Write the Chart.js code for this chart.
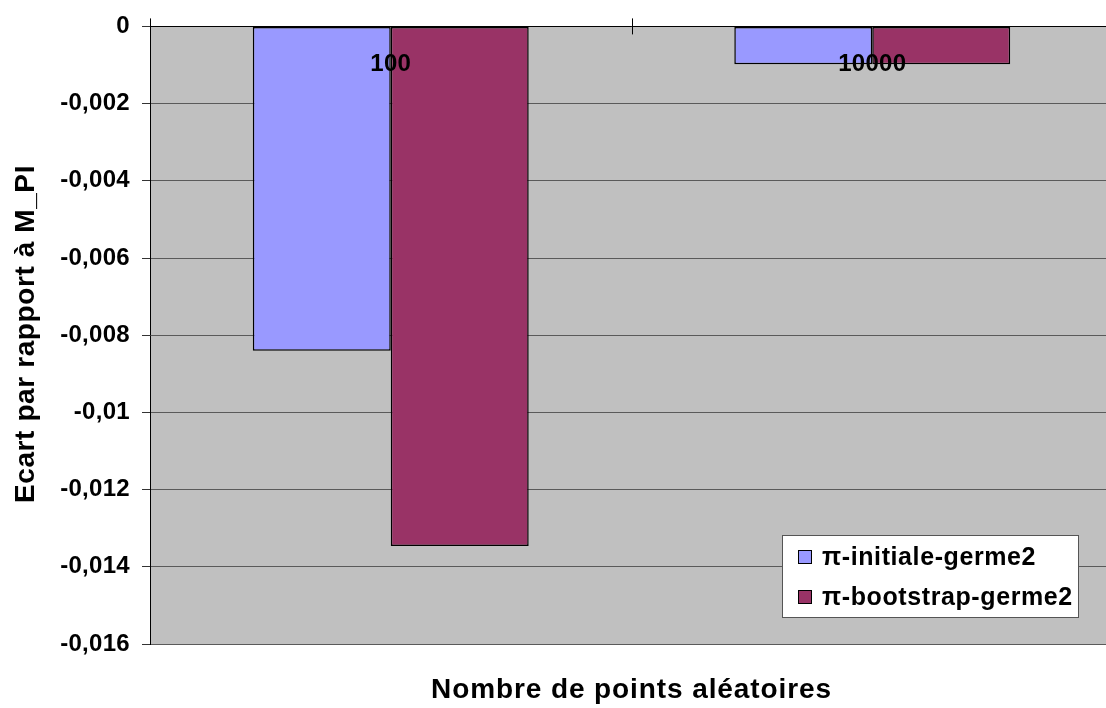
<!DOCTYPE html>
<html>
<head>
<meta charset="utf-8">
<script src="https://cdn.jsdelivr.net/npm/chart.js@4/dist/chart.umd.min.js"></script>
<style>
html,body{margin:0;padding:0;background:#fff;overflow:hidden;}
#wrap{width:1120px;height:708px;}
</style>
</head>
<body>
<div id="wrap"><canvas id="c" width="1120" height="708"></canvas></div>
<script>
const categories = ['100', '10000'];
const seriesNames = ['\u03c0-initiale-germe2', '\u03c0-bootstrap-germe2'];
const initialeValues = [-0.0084, -0.00098];
const bootstrapValues = [-0.01346, -0.00098];
const yMin = -0.016, yMax = 0, yStep = 0.002;
const xTitle = 'Nombre de points al\u00e9atoires';
const yTitle = 'Ecart par rapport \u00e0 M_PI';
const colors = ['#9999FF', '#993366'];

const FONT = '"Liberation Sans", Arial, sans-serif';

function fmt(v){
  const r = Number(v.toFixed(4));
  if (r === 0) return '0';
  return String(r).replace('.', ',');
}

const decor = {
  id: 'decor',
  beforeDraw(chart){
    const {ctx, chartArea:a} = chart;
    ctx.save();
    ctx.fillStyle = '#C0C0C0';
    ctx.fillRect(a.left, a.top, a.right - a.left, a.bottom - a.top);
    ctx.restore();
    ctx.letterSpacing = '0.3px';
  },
  afterDatasetsDraw(chart){
    const {ctx, chartArea:a, scales} = chart;
    const x = scales.x, y = scales.y;
    const y0 = y.getPixelForValue(0);
    ctx.save();
    ctx.strokeStyle = '#000';
    ctx.lineWidth = 1;
    ctx.beginPath();
    ctx.moveTo(a.left, Math.round(y0)+0.5);
    ctx.lineTo(a.right, Math.round(y0)+0.5);
    ctx.stroke();
    const half = (x.getPixelForValue(1) - x.getPixelForValue(0)) / 2;
    for (let i = 0; i <= categories.length; i++){
      const px = Math.round(x.getPixelForValue(0) - half + i * 2 * half) + 0.5;
      ctx.beginPath();
      ctx.moveTo(px, y0 - 8);
      ctx.lineTo(px, y0 + 8);
      ctx.stroke();
    }
    ctx.fillStyle = '#000';
    ctx.font = 'bold 24px ' + FONT;
    ctx.letterSpacing = '0.3px';
    ctx.textAlign = 'center';
    ctx.textBaseline = 'middle';
    categories.forEach((c, i) => {
      ctx.fillText(c, x.getPixelForValue(i), y0 + 38);
    });
    const lx = 782, ly = 535, lw = 296, lh = 82;
    ctx.fillStyle = '#fff';
    ctx.fillRect(lx, ly, lw, lh);
    ctx.strokeStyle = '#555';
    ctx.lineWidth = 1;
    ctx.strokeRect(lx + 0.5, ly + 0.5, lw, lh);
    ctx.font = 'bold 25px ' + FONT;
    ctx.letterSpacing = '0.6px';
    ctx.textAlign = 'left';
    chart.data.datasets.forEach((ds, i) => {
      const cy = 557 + i * 40;
      ctx.fillStyle = ds.backgroundColor;
      ctx.fillRect(798, cy - 7, 14, 14);
      ctx.strokeStyle = '#000';
      ctx.strokeRect(798.5, cy - 6.5, 13, 13);
      ctx.fillStyle = '#000';
      ctx.fillText(ds.label, 822, cy + 1);
    });
    ctx.restore();
  },
  afterDraw(chart){
    const {ctx, chartArea:a} = chart;
    ctx.save();
    ctx.fillStyle = '#000';
    ctx.textAlign = 'center';
    ctx.textBaseline = 'middle';
    ctx.font = 'bold 28px ' + FONT;
    ctx.letterSpacing = '0.9px';
    ctx.fillText(xTitle, (a.left + a.right) / 2, 690);
    ctx.letterSpacing = '0.6px';
    ctx.translate(26, 334);
    ctx.rotate(-Math.PI / 2);
    ctx.fillText(yTitle, 0, 0);
    ctx.restore();
  }
};

new Chart(document.getElementById('c'), {
  type: 'bar',
  data: {
    labels: categories,
    datasets: [
      {label: seriesNames[0], data: initialeValues, backgroundColor: colors[0], borderColor: '#000', borderWidth: 1.5, borderSkipped: false},
      {label: seriesNames[1], data: bootstrapValues, backgroundColor: colors[1], borderColor: '#000', borderWidth: 1.5, borderSkipped: false}
    ]
  },
  options: {
    responsive: false,
    animation: false,
    devicePixelRatio: 1,
    layout: {padding: {top: 22, right: 7, left: 0, bottom: 0}},
    categoryPercentage: 0.573,
    barPercentage: 1,
    plugins: {legend: {display: false}, tooltip: {enabled: false}, title: {display: false}},
    scales: {
      x: {
        grid: {display: false},
        border: {display: false},
        ticks: {display: false},
        afterFit(s){ s.height = 64; }
      },
      y: {
        min: yMin, max: yMax,
        ticks: {
          stepSize: yStep,
          color: '#000',
          font: {family: FONT, size: 24, weight: 'bold'},
          padding: 12,
          callback: (v) => fmt(v)
        },
        grid: {color: '#5a5a5a', lineWidth: 1, tickLength: 8, tickColor: '#333'},
        border: {display: true, color: '#000', width: 1},
        afterFit(s){ s.width = 150; }
      }
    }
  },
  plugins: [decor]
});
</script>
</body>
</html>
